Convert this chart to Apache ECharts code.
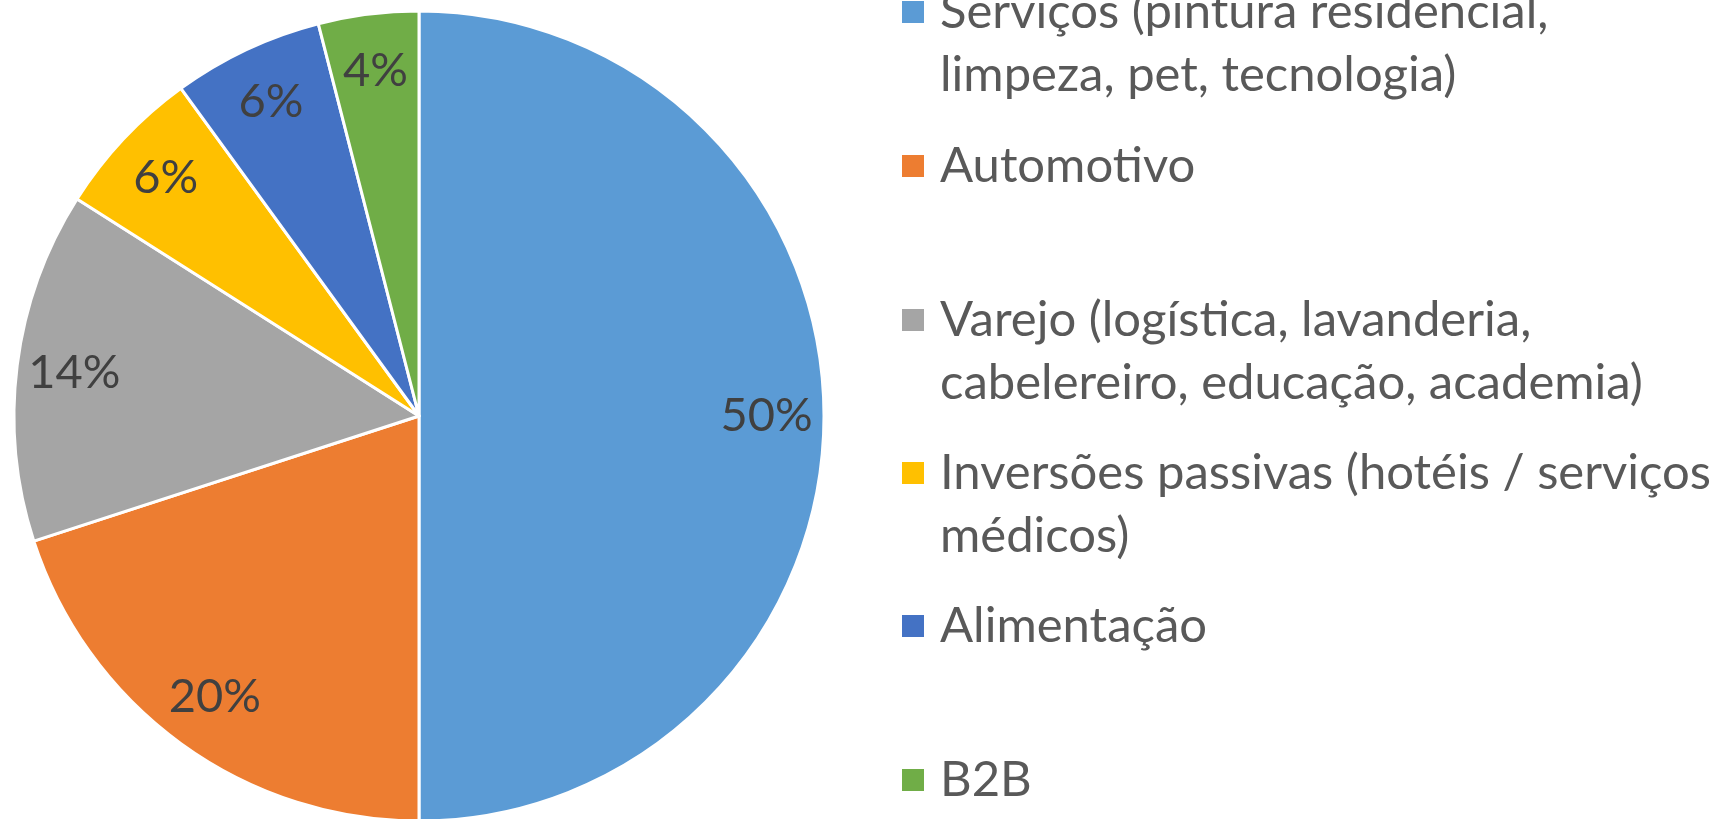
<!DOCTYPE html>
<html>
<head>
<meta charset="utf-8">
<script src="https://cdn.jsdelivr.net/npm/echarts@6/dist/echarts.min.js"></script>
<style>
  html, body { margin: 0; padding: 0; background: #fff; }
  #chart { width: 1717px; height: 819px; }
</style>
</head>
<body>
<div id="chart"></div>
<script>
// categories and shares (%)
const categories = [
  'Serviços (pintura residencial, limpeza, pet, tecnologia)',
  'Automotivo',
  'Varejo (logística, lavanderia, cabelereiro, educação, academia)',
  'Inversões passivas (hotéis / serviços médicos)',
  'Alimentação',
  'B2B'
]
const values = [50, 20, 14, 6, 6, 4]
const colors = ['#5B9BD5', '#ED7D31', '#A5A5A5', '#FFC000', '#4472C4', '#70AD47']
// how each legend label wraps
const legendLines = [
  ['Serviços (pintura residencial,', 'limpeza, pet, tecnologia)'],
  ['Automotivo'],
  ['Varejo (logística, lavanderia,', 'cabelereiro, educação, academia)'],
  ['Inversões passivas (hotéis / serviços', 'médicos)'],
  ['Alimentação'],
  ['B2B']
]

const FONT = 'Lato'
const LINE_H = 63
const legendCenters = [12, 166, 320, 473, 626, 780]

var chartDom = document.getElementById('chart')
var myChart = echarts.init(chartDom)

const pieData = categories.map((name, i) => ({
  name: name,
  value: values[i],
  itemStyle: { color: colors[i] }
}))

// one legend block per item; two-line labels get an empty line on top
// so the marker sits next to the first line
const legends = categories.map((name, i) => {
  const twoLines = legendLines[i].length > 1
  return {
    orient: 'vertical',
    left: 900,
    top: legendCenters[i] - (twoLines ? LINE_H * 1.5 : LINE_H / 2),
    height: 400,
    padding: 0,
    icon: 'rect',
    itemWidth: 24,
    itemHeight: 24,
    selectedMode: false,
    data: [name],
    formatter: (n) => {
      const lines = legendLines[categories.indexOf(n)]
      return lines.length > 1 ? '\n' + lines.join('\n') : lines[0]
    },
    textStyle: {
      fontFamily: FONT,
      fontSize: 49,
      lineHeight: LINE_H,
      color: '#595959',
      padding: [0, 0, 0, 10]
    }
  }
})

var option = {
  animation: false,
  legend: legends,
  series: [
    {
      type: 'pie',
      center: [419, 416],
      radius: [0, 405],
      startAngle: 90,
      clockwise: true,
      data: pieData,
      label: { show: false },
      labelLine: { show: false },
      itemStyle: { borderColor: '#fff', borderWidth: 3 },
      emphasis: { disabled: true }
    },
    {
      // transparent ring only used to place the percentage labels
      type: 'pie',
      center: [419, 416],
      radius: [284, 405],
      startAngle: 90,
      clockwise: true,
      silent: true,
      data: pieData.map(d => ({ name: d.name, value: d.value })),
      itemStyle: { color: 'rgba(0,0,0,0)' },
      label: {
        show: true,
        position: 'inside',
        formatter: (p) => p.value + '%',
        fontFamily: FONT,
        fontSize: 47,
        color: '#404040'
      },
      labelLine: { show: false },
      emphasis: { disabled: true }
    }
  ]
}

option && myChart.setOption(option)
</script>
</body>
</html>
